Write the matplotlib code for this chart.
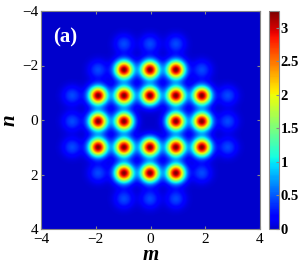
import numpy as np
import matplotlib
matplotlib.use("Agg")
import matplotlib.pyplot as plt
from matplotlib.colors import LinearSegmentedColormap

# peak amplitudes on the lattice sites m,n = -3..3 (rows = n, cols = m)
site_idx = [-3, -2, -1, 0, 1, 2, 3]
amp = [
    [0.0, 0.0, 0.45, 0.45, 0.45, 0.0, 0.0],
    [0.0, 0.45, 3.25, 3.25, 3.25, 0.45, 0.0],
    [0.45, 3.25, 3.25, 3.25, 3.25, 3.25, 0.45],
    [0.45, 3.25, 3.25, 0.0, 3.25, 3.25, 0.45],
    [0.45, 3.25, 3.25, 3.25, 3.25, 3.25, 0.45],
    [0.0, 0.45, 3.25, 3.25, 3.25, 0.45, 0.0],
    [0.0, 0.0, 0.45, 0.45, 0.45, 0.0, 0.0],
]
spacing = 0.95
width = 0.23
cbar_ticks = [0, 0.5, 1, 1.5, 2, 2.5, 3]
axis_ticks = [-4, -2, 0, 2, 4]

plt.rcParams['font.family'] = ['Liberation Serif', 'DejaVu Serif']

x = np.linspace(-4, 4, 400)
X, Y = np.meshgrid(x, x)
Z = np.zeros_like(X)
for i, n in enumerate(site_idx):
    for j, m in enumerate(site_idx):
        a = amp[i][j]
        if a > 0:
            cx = m * spacing - 0.02
            cy = n * spacing - 0.05
            Z += a * np.exp(-((X - cx) ** 2 + (Y - cy) ** 2) / (2 * width ** 2))

jet = plt.get_cmap('jet')
cmap = LinearSegmentedColormap.from_list('jet2', jet(np.linspace(0.07, 1, 256)))

fig = plt.figure(figsize=(3.07, 2.64), dpi=100)
ax = fig.add_axes([41/307, 1 - 229/264, 219/307, 218/264])
cax = fig.add_axes([269/307, 1 - 229/264, 10/307, 218/264])

im = ax.imshow(Z, extent=[-4, 4, 4, -4], origin='lower', cmap=cmap,
               vmin=0, vmax=3.25, aspect='auto', interpolation='bilinear')
ax.set_xlim(-4, 4)
ax.set_ylim(4, -4)
ax.set_xticks(axis_ticks)
ax.set_yticks(axis_ticks)
ax.set_xticklabels(['\u22124', '\u22122', '0', '2', '4'])
ax.set_yticklabels(['\u22124', '\u22122', '0', '2', '4'])
ax.tick_params(direction='in', length=2, labelsize=11, top=True, right=True,
               color='#888888', pad=2)
ax.tick_params(axis='x', pad=3)
for s in ax.spines.values():
    s.set_color('#888888')
ax.set_xlabel('m', fontsize=15, fontweight='bold', style='italic', labelpad=-1)
ax.set_ylabel('n', fontsize=15, fontweight='bold', style='italic', labelpad=2)
ax.text(-3.55, -2.85, '(a)', color='white', fontsize=15, fontweight='bold')

cb = fig.colorbar(im, cax=cax, ticks=cbar_ticks)
cb.ax.set_yticklabels(['0', '0.5', '1', '1.5', '2', '2.5', '3'],
                      fontweight='bold', fontsize=10.5)
cb.ax.tick_params(direction='in', length=2, color='#888888', pad=1)
cb.outline.set_edgecolor('#888888')

fig.savefig('out.png', dpi=100)
